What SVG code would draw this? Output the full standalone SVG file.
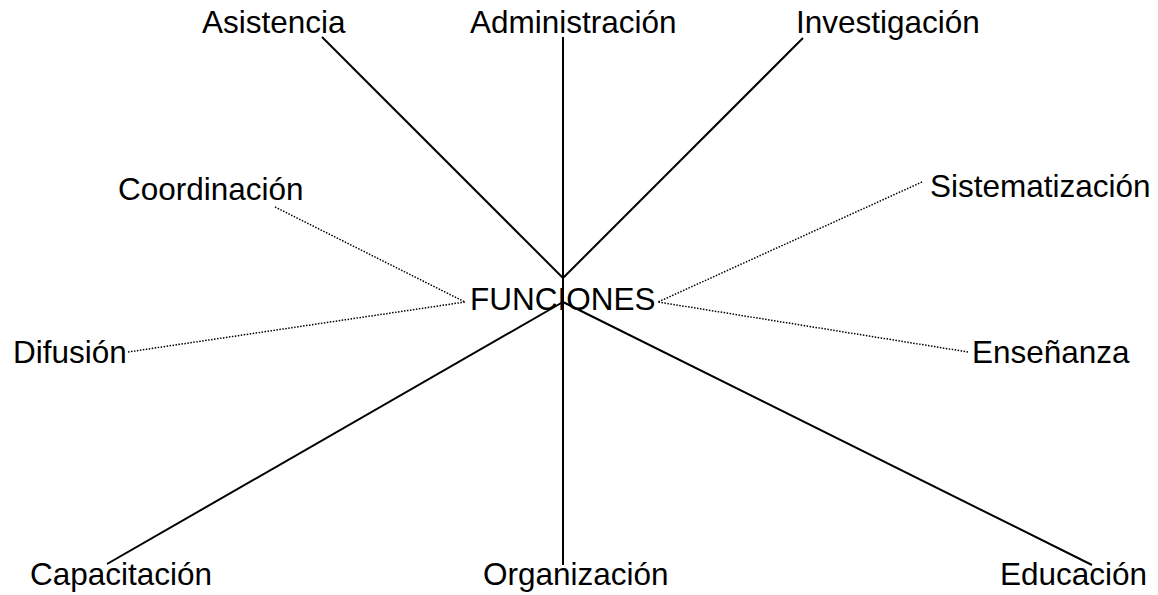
<svg xmlns="http://www.w3.org/2000/svg" width="1158" height="595" viewBox="0 0 1158 595">
<style>
text{font-family:"Liberation Sans",Arial,sans-serif;font-size:31.5px;fill:#000}
.s{stroke:#000;stroke-width:2;fill:none}
.d{stroke:#000;stroke-width:1.5;stroke-dasharray:1.5 1.5;fill:none}
</style>
<rect width="1158" height="595" fill="#fff"/>
<g id="connectors">
<line class="s" x1="322" y1="37" x2="563" y2="278"/>
<line class="s" x1="563" y1="37" x2="563" y2="565"/>
<line class="s" x1="803" y1="38" x2="563" y2="278"/>
<line class="s" x1="563" y1="302" x2="107" y2="564"/>
<line class="s" x1="563" y1="302" x2="1092" y2="565"/>
<line class="d" x1="275" y1="207" x2="465" y2="302"/>
<line class="d" x1="128" y1="352" x2="465" y2="302"/>
<line class="d" x1="922" y1="182" x2="658" y2="302"/>
<line class="d" x1="968" y1="352" x2="658" y2="302"/>
</g>
<g id="funciones"><text x="470" y="310">FUNCIONES</text></g>
<g id="asistencia"><text x="202" y="33">Asistencia</text></g>
<g id="administracion"><text x="470" y="33">Administración</text></g>
<g id="investigacion"><text x="796" y="33">Investigación</text></g>
<g id="coordinacion"><text x="118" y="200">Coordinación</text></g>
<g id="sistematizacion"><text x="930" y="197">Sistematización</text></g>
<g id="difusion"><text x="13" y="363">Difusión</text></g>
<g id="ensenanza"><text x="972" y="363">Enseñanza</text></g>
<g id="capacitacion"><text x="30" y="585">Capacitación</text></g>
<g id="organizacion"><text x="483" y="585">Organización</text></g>
<g id="educacion"><text x="1000" y="585">Educación</text></g>
</svg>
